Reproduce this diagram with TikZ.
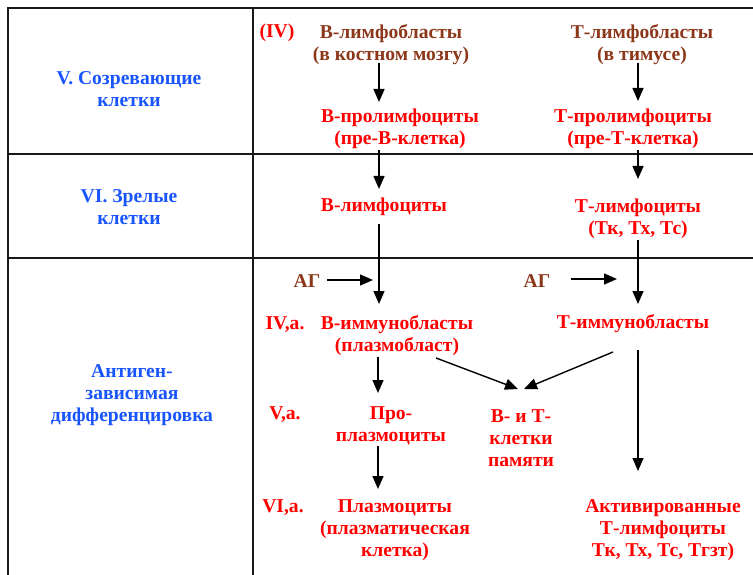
\documentclass[tikz,border=0pt]{standalone}
\usepackage{fontspec}
\setmainfont{Liberation Serif}
\usetikzlibrary{arrows.meta}
\definecolor{cred}{RGB}{255,0,0}
\definecolor{cbrown}{RGB}{140,55,25}
\definecolor{cblue}{RGB}{25,85,255}
\tikzset{
  grid/.style={line width=1.8pt, draw=black!90},
  txt/.style={font=\bfseries\fontsize{19.6}{22}\selectfont, align=center, inner sep=2pt},
  rtxt/.style={txt, text=cred},
  btxt/.style={txt, text=cbrown},
  ltxt/.style={txt, text=cblue},
  arr/.style={line width=1.4pt, -{Triangle[length=13pt,width=11pt]}},
}
\begin{document}
\begin{tikzpicture}[x=1pt,y=-1pt]
\useasboundingbox (0,0) rectangle (753,575);
% table
\draw[grid] (753,8) -- (8,8) -- (8,575);
\draw[grid] (253,8) -- (253,575);
\draw[grid] (8,154) -- (753,154);
\draw[grid] (8,258) -- (753,258);
% left column
\node[ltxt] (l1) at (129,89) {V. Созревающие\\клетки};
\node[ltxt] (l2) at (129,207) {VI. Зрелые\\клетки};
\node[ltxt] (l3) at (132,395) {Антиген-\\зависимая\\дифференцировка};
% stage labels
\node[rtxt] (s1) at (277,33) {(IV)};
\node[rtxt] (s2) at (285,325) {IV,a.};
\node[rtxt] (s3) at (285,415) {V,a.};
\node[rtxt] (s4) at (283,508) {VI,a.};
% B line
\node[btxt] (bl) at (391,45) {В-лимфобласты\\(в костном мозгу)};
\node[rtxt] (bpl) at (400,129) {В-пролимфоциты\\(пре-В-клетка)};
\node[rtxt] (bly) at (384,207) {В-лимфоциты};
\node[rtxt] (bim) at (397,336) {В-иммунобласты\\(плазмобласт)};
\node[rtxt] (bpp) at (391,426) {Про-\\плазмоциты};
\node[rtxt] (bpc) at (395,530) {Плазмоциты\\(плазматическая\\клетка)};
% T line
\node[btxt] (tl) at (642,45) {Т-лимфобласты\\(в тимусе)};
\node[rtxt] (tpl) at (633,129) {Т-пролимфоциты\\(пре-Т-клетка)};
\node[rtxt] (tly) at (638,219) {Т-лимфоциты\\(Тк, Тх, Тс)};
\node[rtxt] (tim) at (633,324) {Т-иммунобласты};
\node[rtxt] (mem) at (521,438) {В- и Т-\\клетки\\памяти};
\node[rtxt] (tac) at (663,530) {Активированные\\Т-лимфоциты\\Тк, Тх, Тс, Тгзт)};
% antigens
\node[btxt] (ag1) at (307,281) {АГ};
\node[btxt] (ag2) at (537,281) {АГ};
% arrow end coordinates
\coordinate (a1s) at (379,63);   \coordinate (a1e) at (379,102);
\coordinate (a2s) at (379,150);  \coordinate (a2e) at (379,189);
\coordinate (a3s) at (379,224);  \coordinate (a3e) at (379,304);
\coordinate (a4s) at (378,357);  \coordinate (a4e) at (378,393);
\coordinate (a5s) at (378,446);  \coordinate (a5e) at (378,489);
\coordinate (t1s) at (638,63);   \coordinate (t1e) at (638,101);
\coordinate (t2s) at (638,150);  \coordinate (t2e) at (638,179);
\coordinate (t3s) at (638,240);  \coordinate (t3e) at (638,304);
\coordinate (t4s) at (638,350);  \coordinate (t4e) at (638,471);
\coordinate (g1s) at (327,280);  \coordinate (g1e) at (373,280);
\coordinate (g2s) at (571,279);  \coordinate (g2e) at (617,279);
\coordinate (d1s) at (436,358);  \coordinate (d1e) at (518,389);
\coordinate (d2s) at (613,352);  \coordinate (d2e) at (524,389);
% arrows
\draw[arr] (a1s) -- (a1e);
\draw[arr] (a2s) -- (a2e);
\draw[arr] (a3s) -- (a3e);
\draw[arr] (a4s) -- (a4e);
\draw[arr] (a5s) -- (a5e);
\draw[arr] (t1s) -- (t1e);
\draw[arr] (t2s) -- (t2e);
\draw[arr] (t3s) -- (t3e);
\draw[arr] (t4s) -- (t4e);
\draw[arr] (g1s) -- (g1e);
\draw[arr] (g2s) -- (g2e);
\draw[arr] (d1s) -- (d1e);
\draw[arr] (d2s) -- (d2e);
\end{tikzpicture}
\end{document}
